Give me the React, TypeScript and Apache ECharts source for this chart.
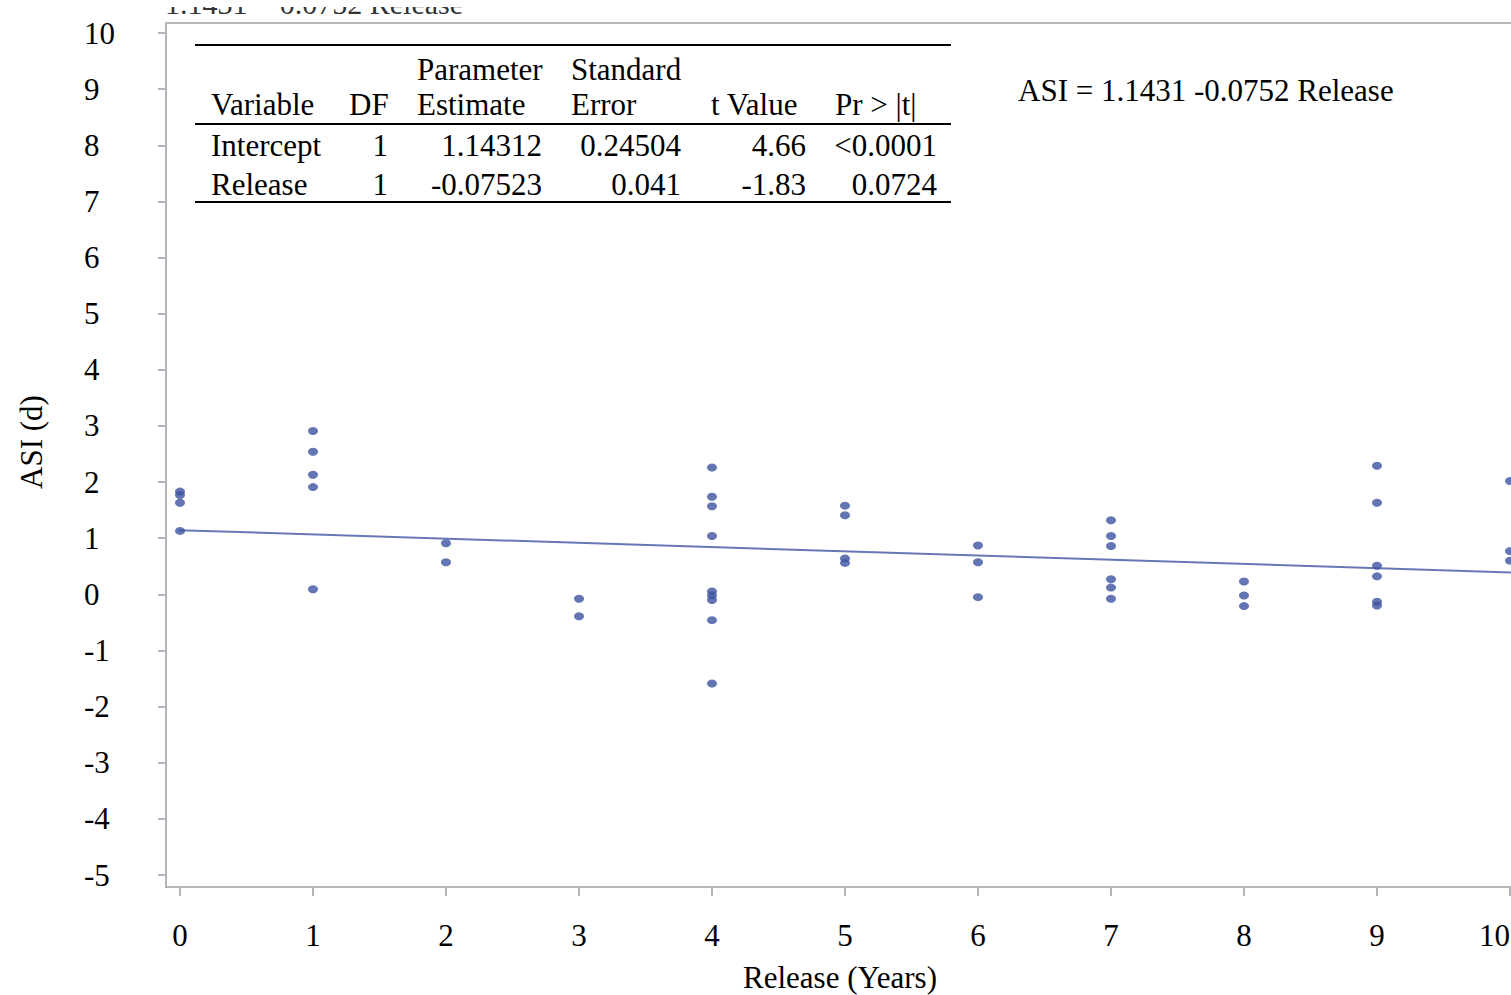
import React, { useEffect, useRef } from "react";
import * as echarts from "echarts";

// ASI (d) values read per release year
const releaseYears = [0, 1, 2, 3, 4, 5, 6, 7, 8, 9, 10];
const asiYear0 = [1.83, 1.77, 1.63, 1.13];
const asiYear1 = [2.91, 2.54, 2.13, 1.91, 0.09];
const asiYear2 = [0.91, 0.57];
const asiYear3 = [-0.08, -0.39];
const asiYear4 = [2.26, 1.74, 1.57, 1.04, 0.05, -0.02, -0.1, -0.46, -1.59];
const asiYear5 = [1.58, 1.41, 0.64, 0.56];
const asiYear6 = [0.87, 0.57, -0.05];
const asiYear7 = [1.32, 1.04, 0.86, 0.27, 0.12, -0.08];
const asiYear8 = [0.23, -0.02, -0.21];
const asiYear9 = [2.29, 1.63, 0.51, 0.32, -0.13, -0.2];
const asiYear10 = [2.02, 0.77, 0.6];
const asiByYear = [asiYear0, asiYear1, asiYear2, asiYear3, asiYear4, asiYear5, asiYear6, asiYear7, asiYear8, asiYear9, asiYear10];

// Regression
const fitIntercept = 1.14312;
const fitSlope = -0.07523;
const fitXRange = [-0.105, 10.3];

// Parameter table
const tableHeader1 = ["", "", "Parameter", "Standard", "", ""];
const tableHeader2 = ["Variable", "DF", "Estimate", "Error", "t Value", "Pr > |t|"];
const tableRow1 = ["Intercept", "1", "1.14312", "0.24504", "4.66", "<0.0001"];
const tableRow2 = ["Release", "1", "-0.07523", "0.041", "-1.83", "0.0724"];
const equationText = "ASI = 1.1431 -0.0752 Release";
const xTitle = "Release (Years)";
const yTitle = "ASI (d)";

const FONT = "'Liberation Serif', 'Times New Roman', serif";
const AXIS_GRAY = "#b3b7bb";
const FS = 31;

export default function App() {
  const ref = useRef<HTMLDivElement>(null);
  useEffect(() => {
    if (!ref.current) return;
    const chart = echarts.init(ref.current, undefined, { renderer: "svg" });

    const scatterData: number[][] = [];
    releaseYears.forEach((yr, i) => asiByYear[i].forEach((v) => scatterData.push([yr, v])));
    const fitData = fitXRange.map((x) => [x, fitIntercept + fitSlope * x]);

    const headerLeft = [211, 349, 417, 571, 711, 835];
    const valueRight = [null, 388, 542, 681, 806, 937];
    const graphics: any[] = [];
    const txt = (text: string, x: number, y: number, align = "left", extra: any = {}) => ({
      type: "text",
      x,
      y,
      silent: true,
      style: { text, fontFamily: FONT, fontSize: FS, fill: "#000", align, verticalAlign: "middle", ...extra },
    });
    tableHeader1.forEach((t, i) => t && graphics.push(txt(t, headerLeft[i], 69)));
    tableHeader2.forEach((t, i) => graphics.push(txt(t, headerLeft[i], 104)));
    [tableRow1, tableRow2].forEach((row, r) => {
      const y = r === 0 ? 145 : 184;
      row.forEach((t, i) => {
        if (i === 0) graphics.push(txt(t, headerLeft[0], y));
        else graphics.push(txt(t, valueRight[i] as number, y, "right"));
      });
    });
    [45, 124, 202].forEach((y) =>
      graphics.push({
        type: "line",
        silent: true,
        shape: { x1: 195, y1: y, x2: 951, y2: y },
        style: { stroke: "#000", lineWidth: 2 },
      })
    );
    graphics.push(txt(equationText, 1018, 90));
    // frame
    graphics.push({
      type: "rect",
      silent: true,
      z: -1,
      shape: { x: 166, y: 23, width: 1400, height: 864 },
      style: { fill: "none", stroke: AXIS_GRAY, lineWidth: 2 },
    });
    // clipped text at top
    graphics.push(txt("1.1431", 165, 3, "left", { fill: "#333", fontSize: 30 }));
    graphics.push(txt("0.0752 Release", 463, 3, "right", { fill: "#333", fontSize: 30 }));
    graphics.push({
      type: "rect",
      silent: true,
      z: 10,
      shape: { x: 150, y: 0, width: 340, height: 7 },
      style: { fill: "#fff" },
    });
    // axis titles
    graphics.push(txt(xTitle, 840, 977, "center"));
    graphics.push({
      type: "text",
      x: 31,
      y: 442,
      rotation: Math.PI / 2,
      silent: true,
      style: { text: yTitle, fontFamily: FONT, fontSize: FS, fill: "#000", align: "center", verticalAlign: "middle" },
    });

    chart.setOption({
      animation: false,
      backgroundColor: "#fff",
      grid: { left: 180, right: 1, top: 33, bottom: 120, outerBoundsMode: "none", containLabel: false },
      xAxis: {
        type: "value",
        min: 0,
        max: 10,
        interval: 1,
        offset: 12,
        axisLine: { show: true, onZero: false, lineStyle: { color: AXIS_GRAY, width: 2 } },
        axisTick: { show: true, length: 9, lineStyle: { color: AXIS_GRAY, width: 2 } },
        splitLine: { show: false },
        axisLabel: { fontFamily: FONT, fontSize: FS, color: "#000", margin: 33, alignMaxLabel: "right" },
      },
      yAxis: {
        type: "value",
        min: -5,
        max: 10,
        interval: 1,
        offset: 14,
        axisLine: { show: true, onZero: false, lineStyle: { color: AXIS_GRAY, width: 2 } },
        axisTick: { show: true, length: 8, lineStyle: { color: AXIS_GRAY, width: 2 } },
        splitLine: { show: false },
        axisLabel: { fontFamily: FONT, fontSize: FS, color: "#000", margin: 82, align: "left" },
      },
      graphic: graphics,
      series: [
        {
          type: "line",
          data: fitData,
          clip: false,
          showSymbol: false,
          symbol: "none",
          z: 2,
          lineStyle: { color: "#6677b4", width: 2 },
        },
        {
          type: "scatter",
          data: scatterData,
          symbol: "circle",
          symbolSize: [10, 8],
          z: 3,
          itemStyle: { color: "#3d53a0" },
        },
      ],
    });
    return () => chart.dispose();
  }, []);

  return (
    <div style={{ position: "absolute", left: 0, top: 0, width: 1511, height: 995, overflow: "hidden", background: "#fff" }}>
      <div ref={ref} style={{ width: 1511, height: 995 }} />
    </div>
  );
}
